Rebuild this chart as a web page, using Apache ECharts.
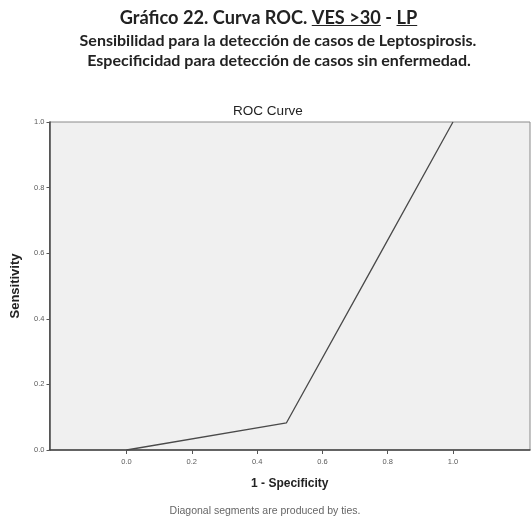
<!DOCTYPE html>
<html>
<head>
<meta charset="utf-8">
<script src="https://cdn.jsdelivr.net/npm/echarts@6/dist/echarts.min.js"></script>
<style>
  html, body { margin: 0; padding: 0; background: #ffffff; }
  #chart { width: 531px; height: 518px; }
</style>
</head>
<body>
<div id="chart"></div>
<script>
// ROC curve points: 1 - specificity (x) vs sensitivity (y)
var falsePositiveRate = [0.0, 0.49, 0.75, 1.0];
var sensitivity = [0.0, 0.083, 0.55, 1.0];
var tickValues = [0.0, 0.2, 0.4, 0.6, 0.8, 1.0];

var titleMain = 'Gráfico 22. Curva ROC. ';
var titleVar = 'VES >30';
var titleSep = ' - ';
var titleGroup = 'LP';
var subtitle1 = 'Sensibilidad para la detección de casos de Leptospirosis.';
var subtitle2 = 'Especificidad para detección de casos sin enfermedad.';
var plotTitle = 'ROC Curve';
var xName = '1 - Specificity';
var yName = 'Sensitivity';
var footnote = 'Diagonal segments are produced by ties.';

var chart = echarts.init(document.getElementById('chart'), null, { renderer: 'canvas' });

var headFont = 'bold 18.2px Lato';
var measureCtx = document.createElement('canvas').getContext('2d');
function textWidth(str, font) {
  measureCtx.font = font;
  return measureCtx.measureText(str).width;
}

// First heading line, built from pieces so two of them can be underlined
var headPieces = [
  { text: titleMain, underline: false },
  { text: titleVar, underline: true },
  { text: titleSep, underline: false },
  { text: titleGroup, underline: true }
];
var headCenter = 268.5;
var headMiddle = 18;
var underlineY = 25.5;
var totalW = headPieces.reduce(function (s, p) { return s + textWidth(p.text, headFont); }, 0);
var cursor = headCenter - totalW / 2;
var headGraphics = [];
headPieces.forEach(function (p) {
  var w = textWidth(p.text, headFont);
  headGraphics.push({
    type: 'text', x: cursor, y: headMiddle,
    style: { text: p.text, font: headFont, fill: '#222222', align: 'left', verticalAlign: 'middle' }
  });
  if (p.underline) {
    headGraphics.push({
      type: 'line',
      shape: { x1: cursor, y1: underlineY, x2: cursor + w, y2: underlineY },
      style: { stroke: '#222222', lineWidth: 1 }
    });
  }
  cursor += w;
});

var option = {
  backgroundColor: '#ffffff',
  animation: false,
  grid: {
    left: 49.5, right: 1, top: 122, bottom: 68,
    containLabel: false,
    outerBoundsMode: 'none',
    show: true,
    backgroundColor: '#f0f0f0',
    borderColor: '#8a8a8a',
    borderWidth: 1
  },
  xAxis: {
    type: 'value',
    min: -0.236,
    max: 1.236,
    name: xName,
    nameLocation: 'middle',
    nameGap: 28,
    nameTextStyle: { fontFamily: 'Liberation Sans', fontWeight: 'bold', fontSize: 12, color: '#222' },
    axisLine: { show: true, onZero: false, lineStyle: { color: '#444', width: 1.5 } },
    axisTick: { show: true, length: 4, customValues: tickValues, lineStyle: { color: '#555' } },
    axisLabel: {
      show: true, customValues: tickValues, fontSize: 7.5, color: '#5a5a5a',
      fontFamily: 'Liberation Sans', margin: 8,
      formatter: function (v) { return v.toFixed(1); }
    },
    splitLine: { show: false }
  },
  yAxis: {
    type: 'value',
    min: 0,
    max: 1,
    interval: 0.2,
    name: yName,
    nameLocation: 'middle',
    nameGap: 28,
    nameTextStyle: { fontFamily: 'Liberation Sans', fontWeight: 'bold', fontSize: 13, color: '#222' },
    axisLine: { show: true, onZero: false, lineStyle: { color: '#444', width: 1.5 } },
    axisTick: { show: true, length: 3, lineStyle: { color: '#555' } },
    axisLabel: {
      fontSize: 7.5, color: '#5a5a5a', fontFamily: 'Liberation Sans', margin: 5,
      formatter: function (v) { return v.toFixed(1); }
    },
    splitLine: { show: false }
  },
  series: [{
    type: 'line',
    data: falsePositiveRate.map(function (x, i) { return [x, sensitivity[i]]; }),
    symbol: 'none',
    lineStyle: { color: '#4a4a4a', width: 1.3 },
    z: 3
  }],
  graphic: headGraphics.concat([
    {
      type: 'text', x: 278, y: 41,
      style: { text: subtitle1, font: 'bold 16px Lato', fill: '#222222', align: 'center', verticalAlign: 'middle' }
    },
    {
      type: 'text', x: 279, y: 61,
      style: { text: subtitle2, font: 'bold 16px Lato', fill: '#222222', align: 'center', verticalAlign: 'middle' }
    },
    {
      type: 'text', x: 268, y: 111,
      style: { text: plotTitle, font: '13.5px "Liberation Sans"', fill: '#222222', align: 'center', verticalAlign: 'middle' }
    },
    {
      type: 'text', x: 265, y: 511,
      style: { text: footnote, font: '10.5px "Liberation Sans"', fill: '#666666', align: 'center', verticalAlign: 'middle' }
    }
  ])
};

chart.setOption(option);
</script>
</body>
</html>
